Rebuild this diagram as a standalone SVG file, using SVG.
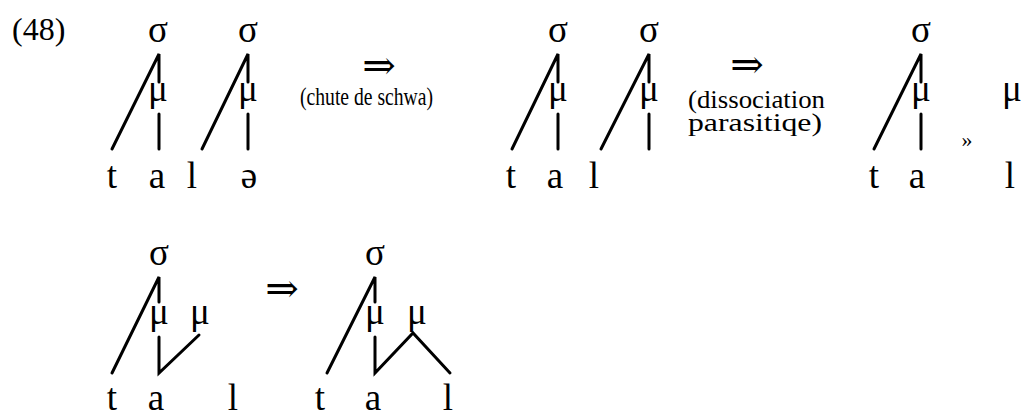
<svg xmlns="http://www.w3.org/2000/svg" width="1024" height="414" viewBox="0 0 1024 414">
<style>
text{font-family:"Liberation Serif","DejaVu Serif",serif;fill:#000}
.n{font-size:37px;text-anchor:middle}
.lbl{font-size:25px}
.arr{font-family:"DejaVu Serif",serif;font-size:40px;text-anchor:middle}
.num{font-size:32px}
line,polyline{stroke:#000;stroke-width:3;fill:none;stroke-linecap:round;stroke-linejoin:miter}
</style>
<rect width="1024" height="414" fill="#fff"/>
<text class="num" x="12" y="40">(48)</text>

<g id="tree1">
<text class="n" x="158" y="42">σ</text>
<text class="n" x="158" y="101">μ</text>
<text class="n" x="248" y="42">σ</text>
<text class="n" x="248" y="101">μ</text>
<text class="n" x="112" y="188">t</text>
<text class="n" x="157" y="188">a</text>
<text class="n" x="192" y="188">l</text>
<text class="n" x="249" y="188">ə</text>
</g>
<g id="arrow1">
<text class="arr" x="379" y="79">⇒</text>
<text class="lbl" x="300" y="105" textLength="133" lengthAdjust="spacingAndGlyphs">(chute de schwa)</text>
</g>
<g id="tree2">
<text class="n" x="558" y="42">σ</text>
<text class="n" x="558" y="101">μ</text>
<text class="n" x="649" y="42">σ</text>
<text class="n" x="649" y="101">μ</text>
<text class="n" x="511" y="188">t</text>
<text class="n" x="555" y="188">a</text>
<text class="n" x="594" y="188">l</text>
</g>
<g id="arrow2">
<text class="arr" x="747" y="78">⇒</text>
<text class="lbl" x="688" y="108" textLength="137" lengthAdjust="spacingAndGlyphs">(dissociation</text>
<text class="lbl" x="688" y="131" textLength="134" lengthAdjust="spacingAndGlyphs">parasitiqe)</text>
</g>
<g id="tree3">
<text class="n" x="921" y="42">σ</text>
<text class="n" x="921" y="101">μ</text>
<text class="n" x="1012" y="101">μ</text>
<text class="n" x="874" y="188">t</text>
<text class="n" x="917" y="188">a</text>
<text class="n" x="1010" y="188">l</text>
<text x="967" y="147" style="font-size:22px;text-anchor:middle">»</text>
</g>
<g id="tree4">
<text class="n" x="159" y="265">σ</text>
<text class="n" x="159" y="324">μ</text>
<text class="n" x="200" y="324">μ</text>
<text class="n" x="112" y="410">t</text>
<text class="n" x="156" y="410">a</text>
<text class="n" x="233" y="410">l</text>
</g>
<g id="arrow3">
<text class="arr" x="282" y="302">⇒</text>
</g>
<g id="tree5">
<text class="n" x="375" y="265">σ</text>
<text class="n" x="375" y="324">μ</text>
<text class="n" x="417" y="324">μ</text>
<text class="n" x="320" y="410">t</text>
<text class="n" x="373" y="410">a</text>
<text class="n" x="448" y="410">l</text>
</g>

<g id="connectors">
<polyline points="112,149 159,54 159,82"/>
<line x1="159" y1="114" x2="159" y2="149"/>
<polyline points="202,149 248,54 248,82"/>
<line x1="248" y1="114" x2="248" y2="149"/>
<polyline points="512,149 558,54 558,82"/>
<line x1="558" y1="114" x2="558" y2="149"/>
<polyline points="601,149 649,54 649,82"/>
<line x1="649" y1="114" x2="649" y2="149"/>
<polyline points="874,149 921,54 921,82"/>
<line x1="921" y1="114" x2="921" y2="149"/>
<polyline points="112,373 159,277 159,302"/>
<polyline points="159,337 159,373 199,335"/>
<polyline points="327,373 375,277 375,302"/>
<polyline points="375,337 375,373 413,333 450,373"/>
</g>
</svg>
